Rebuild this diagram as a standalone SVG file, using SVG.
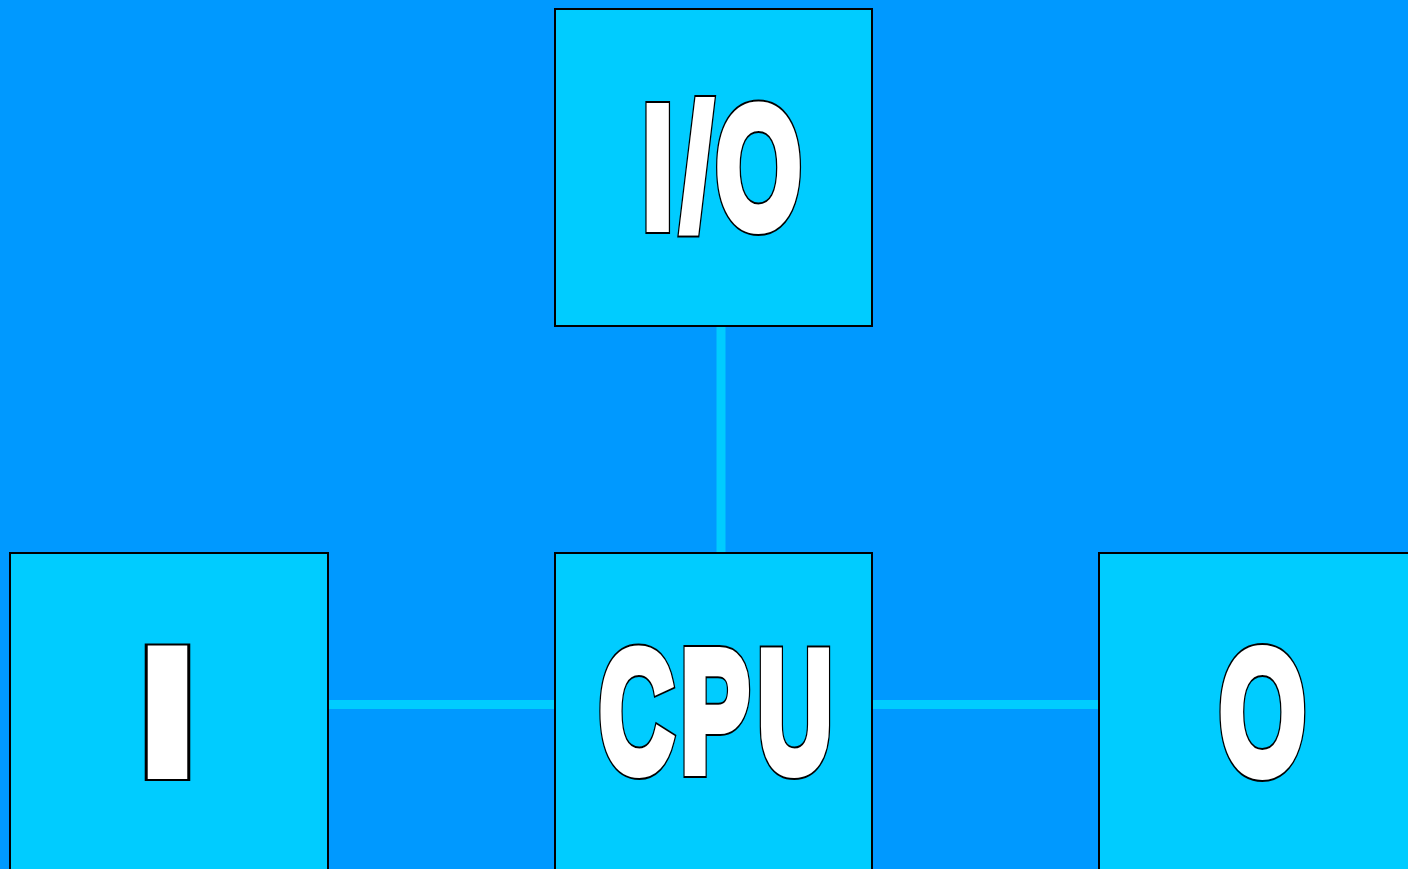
<svg xmlns="http://www.w3.org/2000/svg" width="1408" height="869" viewBox="0 0 1408 869">
  <style>
    .box { fill: #00CCFF; stroke: #000000; stroke-width: 2; }
    .link { stroke: #00CCFF; stroke-width: 9; fill: none; }
    .label { font-family: "Liberation Sans", Arial, sans-serif; font-weight: bold; font-size: 172px; }
    /* heavy lettering: black halo under a thickened white face */
    .halo { fill: #000000; stroke: #000000; stroke-width: 14; }
    .face { fill: #FFFFFF; stroke: #FFFFFF; stroke-width: 10; }
    .plain { fill: #FFFFFF; stroke: #000000; stroke-width: 2; text-anchor: middle; }
  </style>
  <rect x="0" y="0" width="1408" height="869" fill="#0099FF"/>

  <!-- links between the units -->
  <g id="connectors">
    <line class="link" x1="721" y1="326" x2="721" y2="553"/>
    <line class="link" x1="328" y1="704.5" x2="555" y2="704.5"/>
    <line class="link" x1="872" y1="704.5" x2="1099" y2="704.5"/>
  </g>

  <g id="node-io">
    <rect class="box" x="555" y="9" width="317" height="317"/>
    <g transform="translate(0 227) scale(0.637 1)">
      <text class="label halo" x="1008.6 1070 1124" y="0">I/O</text>
      <text class="label face" x="1008.6 1070 1124" y="0">I/O</text>
    </g>
  </g>

  <g id="node-cpu">
    <rect class="box" x="555" y="553" width="317" height="330"/>
    <g transform="translate(0 771) scale(0.6 1)">
      <text class="label halo" x="998.9 1134.4 1263" y="0">CPU</text>
      <text class="label face" x="998.9 1134.4 1263" y="0">CPU</text>
    </g>
  </g>

  <g id="node-i">
    <rect class="box" x="10" y="553" width="318" height="330"/>
    <text class="label plain" style="font-size:197px" transform="translate(167.5 780) scale(1.5 1)" x="0" y="0">I</text>
  </g>

  <g id="node-o">
    <rect class="box" x="1099" y="553" width="330" height="330"/>
    <g transform="translate(1262.5 773) scale(0.631 1)" style="text-anchor: middle">
      <text class="label halo" style="font-size:176px" x="0" y="0">O</text>
      <text class="label face" style="font-size:176px" x="0" y="0">O</text>
    </g>
  </g>
</svg>
